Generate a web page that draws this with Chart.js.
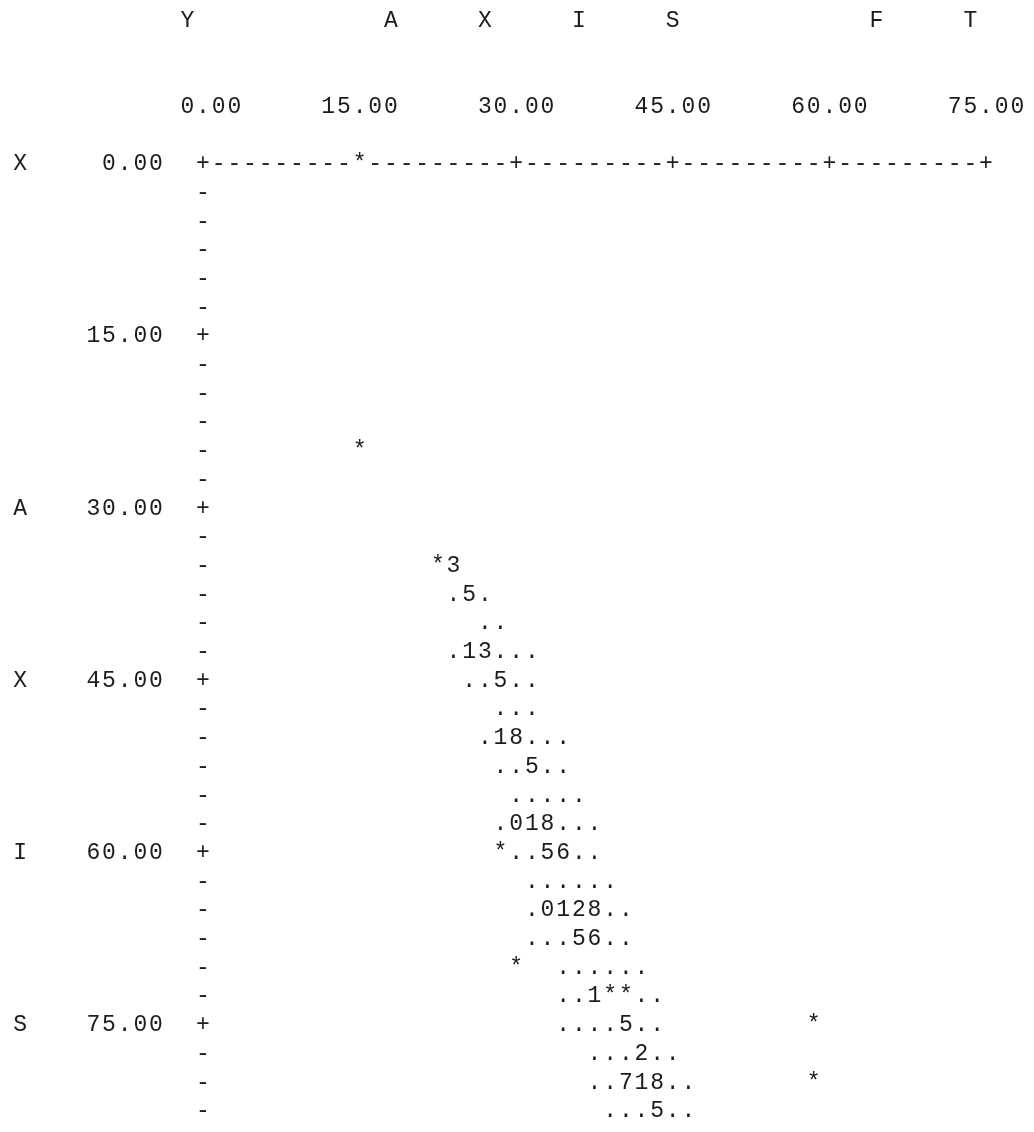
<!DOCTYPE html>
<html>
<head>
<meta charset="utf-8">
<script src="https://cdn.jsdelivr.net/npm/chart.js@4"></script>
<style>
  body { margin: 0; background: #fff; }
</style>
</head>
<body>
<canvas id="myChart" width="1034" height="1132"></canvas>
<script>
// line printer plot: one character cell = 1.5 units across, 2.5 units down
const xStep = 1.5;
const yStep = 2.5;

const xTicks = [0, 15, 30, 45, 60, 75];
const yTicks = [0, 15, 30, 45, 60, 75];
const yAxisEnd = 82.5;

// heading letters across the top and down the left side
const topLetters = ['Y', 'A', 'X', 'I', 'S', 'F', 'T'];
const topLetterX = [-1.5, 18, 27, 36, 45, 64.5, 73.5];
const sideLetters = ['X', 'A', 'X', 'I', 'S'];
const sideLetterY = [0, 30, 45, 60, 75];

// plotted rows: y value, x of first character, printed characters
const rowY = [0, 25, 35, 37.5, 40, 42.5, 45, 47.5, 50, 52.5, 55, 57.5,
    60, 62.5, 65, 67.5, 70, 72.5, 75, 77.5, 80, 82.5];
const rowX0 = [15, 15, 22.5, 24, 27, 24, 25.5, 28.5, 27, 28.5, 30, 28.5,
    28.5, 31.5, 31.5, 31.5, 30, 34.5, 34.5, 37.5, 37.5, 39];
const rowText = ["*", "*", "*3", ".5.", "..", ".13...", "..5..", "...", ".18...", "..5..", ".....", ".018...",
    "*..56..", "......", ".0128..", "...56..", "*  ......", "..1**..", "....5..         *", "...2..", "..718..       *", "...5.."];

const FONT = '23px "Liberation Mono", "DejaVu Sans Mono", monospace';
const INK = '#1c1c1c';

// expand rows into single character points
let pts = [], chars = [];
rowY.forEach((y, r) => {
    [...rowText[r]].forEach((c, i) => {
        if (c === ' ') return;
        pts.push({ x: rowX0[r] + i * xStep, y });
        chars.push(c);
    });
});

// axis marks, + at every tick, - between
let axisPts = [], axisChars = [];
for (let x = 0; x <= xTicks[xTicks.length - 1] + 0.01; x += xStep) {
    if (pts.some(p => p.y === 0 && Math.abs(p.x - x) < 0.01)) continue;
    axisPts.push({ x, y: 0 });
    axisChars.push(xTicks.some(t => Math.abs(t - x) < 0.01) ? '+' : '-');
}
for (let y = yStep; y <= yAxisEnd + 0.01; y += yStep) {
    axisPts.push({ x: 0, y });
    axisChars.push(yTicks.some(t => Math.abs(t - y) < 0.01) ? '+' : '-');
}

const printChars = {
    id: 'printChars',
    afterDatasetsDraw(chart) {
        const ctx = chart.ctx;
        const xs = chart.scales.x, ys = chart.scales.y;
        const put = (c, x, y) => ctx.fillText(c, xs.getPixelForValue(x), ys.getPixelForValue(y));
        ctx.save();
        ctx.font = FONT;
        ctx.fillStyle = INK;
        ctx.textAlign = 'center';
        ctx.textBaseline = 'middle';

        chart.data.datasets.forEach((ds, i) => {
            chart.getDatasetMeta(i).data.forEach((el, j) => {
                ctx.fillText(ds.chars[j], el.x, el.y);
            });
        });

        // x tick labels, last character two cells right of the tick
        xTicks.forEach(v => {
            const s = v.toFixed(2);
            [...s].forEach((c, k) => put(c, v + (k - s.length + 1 + 2) * xStep, -5));
        });
        // y tick labels, ending three cells left of the axis
        yTicks.forEach(v => {
            const s = v.toFixed(2);
            [...s].forEach((c, k) => put(c, (k - s.length + 1 - 3) * xStep, v));
        });
        topLetters.forEach((c, i) => put(c, topLetterX[i], -12.5));
        sideLetters.forEach((c, i) => put(c, -17.5, sideLetterY[i]));
        ctx.restore();
    }
};

const chart = {
    type: 'scatter',
    data: {
        datasets: [{
            label: 'axis',
            data: axisPts,
            chars: axisChars,
            pointRadius: 0
        }, {
            label: 'plot',
            data: pts,
            chars: chars,
            pointRadius: 0
        }]
    },
    options: {
        responsive: false,
        animation: false,
        layout: { padding: 0 },
        plugins: { legend: { display: false }, tooltip: { enabled: false } },
        scales: {
            x: { type: 'linear', display: false, min: -19.44, max: 79.6 },
            y: { type: 'linear', display: false, reverse: true, min: -14.29, max: 84.32 }
        }
    },
    plugins: [printChars]
};

const ctx = document.getElementById('myChart').getContext('2d');
const myChart = new Chart(ctx, chart);
</script>
</body>
</html>
